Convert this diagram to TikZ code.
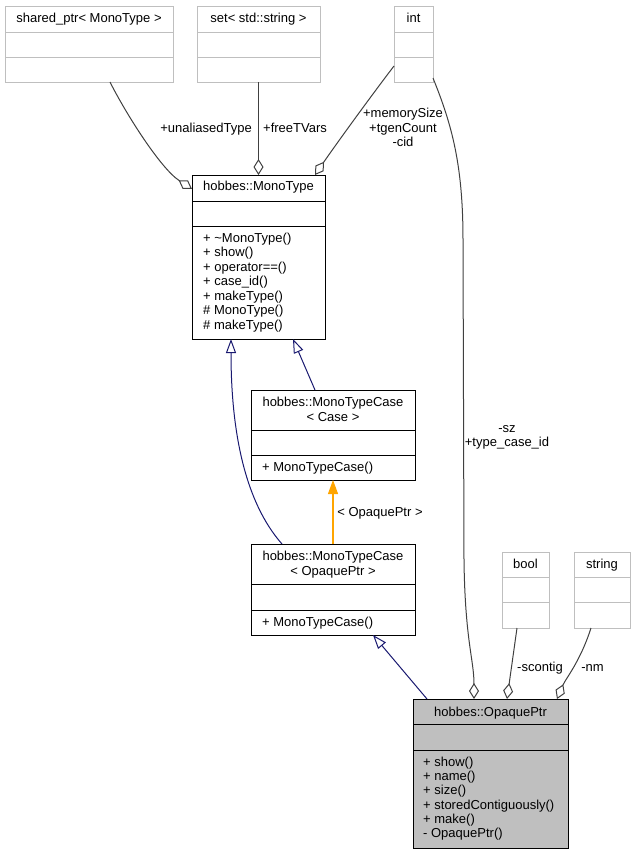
\documentclass[tikz,border=0pt]{standalone}
\usepackage{fontspec}
\setmainfont{Liberation Sans}
\usetikzlibrary{arrows.meta}
\definecolor{edgegray}{HTML}{404040}
\definecolor{boxgray}{HTML}{BFBFBF}
\definecolor{navyblue}{HTML}{191970}
\definecolor{orng}{HTML}{FFA500}
\begin{document}
\begin{tikzpicture}[x=1pt,y=-1pt,
  cls/.style={draw=black, line width=1pt, fill=white, inner sep=0pt, outer sep=0pt, anchor=north west},
  ext/.style={draw=boxgray, line width=1pt, fill=white, inner sep=0pt, outer sep=0pt, anchor=north west},
  hl/.style={cls, fill=boxgray},
  txt/.style={font=\fontsize{13}{14.5}\selectfont, inner sep=0pt, anchor=base},
  mem/.style={txt, anchor=base west},
  agg/.style={draw=edgegray, line width=1pt, -{Diamond[open,length=16pt,width=10pt]}},
  inh/.style={draw=navyblue, line width=1pt, -{Triangle[open,length=14pt,width=10pt]}},
  tmpl/.style={draw=orng, line width=1.1pt, -{Triangle[length=14pt,width=10pt]}}]
\useasboundingbox (0,0) rectangle (635,855);

% ---- boxes ----
\node[ext, minimum width=168pt, minimum height=76pt] (shared) at (5,6) {};
\node[ext, minimum width=123pt, minimum height=76pt] (set) at (197,6) {};
\node[ext, minimum width=39pt, minimum height=76pt] (int) at (394,6) {};
\node[cls, minimum width=133pt, minimum height=164pt] (mono) at (192,175) {};
\node[cls, minimum width=164pt, minimum height=90pt] (case) at (251,390) {};
\node[cls, minimum width=164pt, minimum height=91pt] (copq) at (251,544) {};
\node[hl, minimum width=155pt, minimum height=149pt] (opq) at (413,699) {};
\node[ext, minimum width=47pt, minimum height=76pt] (bool) at (502,552) {};
\node[ext, minimum width=56pt, minimum height=76pt] (string) at (574,552) {};

% ---- dividers ----
\foreach \n/\a/\b in {shared/26/51, set/26/51, int/26/51, bool/25/50, string/25/50} {
  \draw[boxgray, line width=1pt] ([yshift=-\a pt]\n.north west) -- ([yshift=-\a pt]\n.north east);
  \draw[boxgray, line width=1pt] ([yshift=-\b pt]\n.north west) -- ([yshift=-\b pt]\n.north east);
}
\foreach \n/\a/\b in {mono/26/51, case/40/65, copq/40/66, opq/25/51} {
  \draw[black, line width=1pt] ([yshift=-\a pt]\n.north west) -- ([yshift=-\a pt]\n.north east);
  \draw[black, line width=1pt] ([yshift=-\b pt]\n.north west) -- ([yshift=-\b pt]\n.north east);
}

% ---- titles ----
\node[txt] (shared-t) at (89,22.8) {shared\_ptr< MonoType >};
\node[txt] (set-t) at (258.5,22.8) {set< std::string >};
\node[txt] (int-t) at (413.5,22.5) {int};
\node[txt] (mono-t) at (258.5,190.5) {hobbes::MonoType};
\node[txt] (case-t1) at (333,406.5) {hobbes::MonoTypeCase};
\node[txt] (case-t2) at (333,421.5) {< Case >};
\node[txt] (copq-t1) at (333,560.5) {hobbes::MonoTypeCase};
\node[txt] (copq-t2) at (333,575.5) {< OpaquePtr >};
\node[txt] (opq-t) at (490.5,716.5) {hobbes::OpaquePtr};
\node[txt] (bool-t) at (525.5,568.5) {bool};
\node[txt] (string-t) at (602,568.5) {string};

% ---- members ----
\foreach \t [count=\i] in {+ \textasciitilde MonoType(), + show(), + operator==(), + case\_id(), + makeType(), \# MonoType(), \# makeType()}
  \node[mem] (mono-m\i) at (203,{242+(\i-1)*14.55}) {\t};
\node[mem] (case-m1) at (262,471.5) {+ MonoTypeCase()};
\node[mem] (copq-m1) at (262,626.5) {+ MonoTypeCase()};
\foreach \t [count=\i] in {+ show(), + name(), + size(), + storedContiguously(), + make(), - OpaquePtr()}
  \node[mem] (opq-m\i) at (423,{766.5+(\i-1)*14.2}) {\t};

% ---- aggregation edges ----
\draw[agg] ([xshift=21pt]shared.south) .. controls (125,112) and (160,168) .. ([yshift=-14pt]mono.north west);
\draw[agg] (set.south) -- (mono.north);
\draw[agg] ([yshift=16pt]int.south west) .. controls (368,100) and (332,150) .. ([xshift=-10pt]mono.north east);
\draw[agg] ([yshift=4pt]int.south east) .. controls (452,125) and (463,165) .. (463,240)
  -- (464,560) .. controls (465,640) and (474,660) .. ([xshift=-16.5pt]opq.north);
\draw[agg] ([xshift=-8.5pt]bool.south) -- ([xshift=16.5pt]opq.north);
\draw[agg] ([xshift=-11pt]string.south) .. controls (580,662) and (566,678) .. ([xshift=-11pt]opq.north east);

% ---- inheritance edges ----
\draw[inh] ([xshift=-18pt]case.north) -- ([xshift=34.5pt]mono.south);
\draw[inh] ([xshift=-51pt]copq.north) .. controls (245,502) and (231,432) .. ([xshift=-27.5pt]mono.south);
\draw[inh] ([xshift=14pt]opq.north west) -- ([xshift=40pt]copq.south);
\draw[tmpl] (copq.north) -- (case.south);

% ---- edge labels ----
\node[txt, anchor=base east] (l-unal) at (252,132.5) {+unaliasedType};
\node[txt, anchor=base west] (l-free) at (263,132.5) {+freeTVars};
\node[txt] (l-mem) at (403,117.5) {+memorySize};
\node[txt] (l-tgen) at (403,132) {+tgenCount};
\node[txt] (l-cid) at (403,146.5) {-cid};
\node[txt] (l-sz) at (507,432) {-sz};
\node[txt] (l-tci) at (507,446) {+type\_case\_id};
\node[txt] (l-opq) at (380,516.5) {< OpaquePtr >};
\node[txt] (l-scon) at (540,671.5) {-scontig};
\node[txt] (l-nm) at (592.5,671.5) {-nm};
\end{tikzpicture}
\end{document}
